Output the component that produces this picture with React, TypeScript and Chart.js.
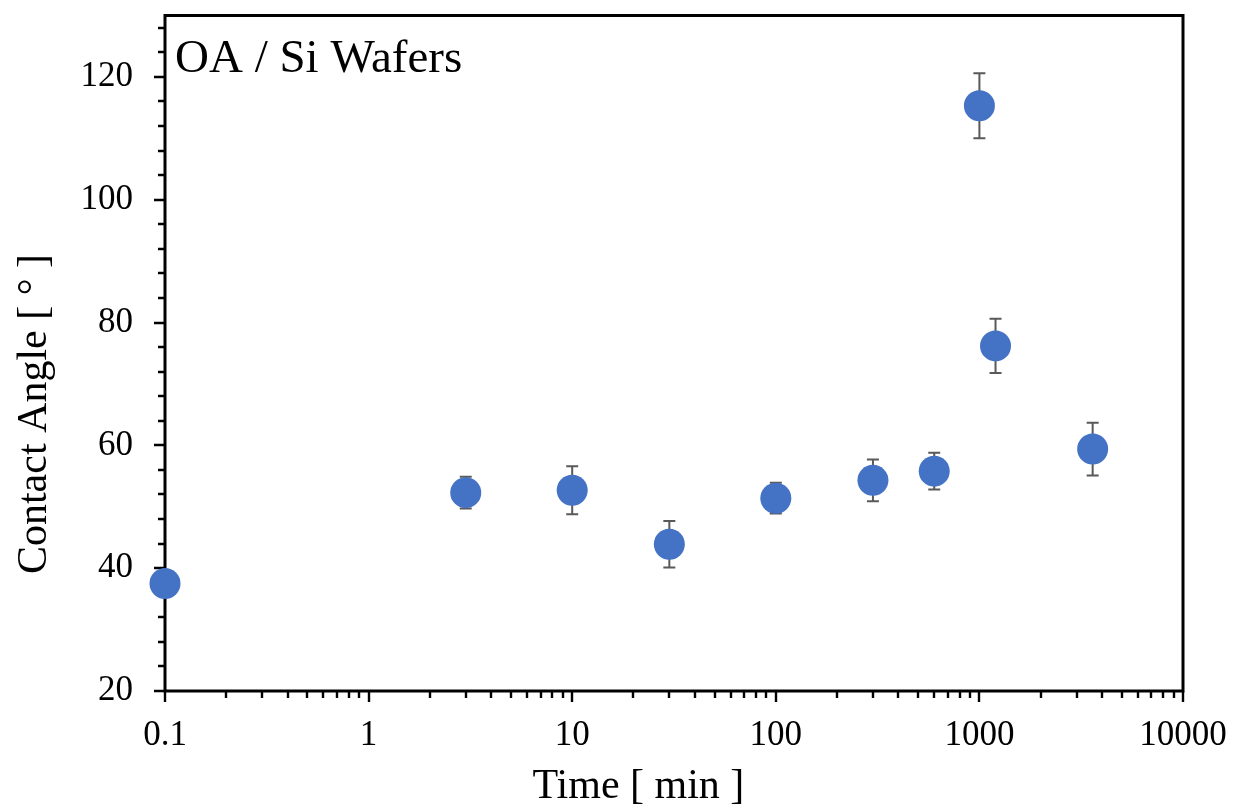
import React, { useEffect, useRef } from "react";
import { Chart, registerables } from "chart.js";

Chart.register(...registerables);

// ---- data ----
const timeMin = [0.1, 3, 10, 30, 100, 300, 600, 1000, 1200, 3600];
const contactAngle = [37.5, 52.3, 52.7, 43.9, 51.4, 54.3, 55.8, 115.3, 76.2, 59.4];
const angleError = [0, 2.6, 3.9, 3.8, 2.5, 3.4, 3.0, 5.3, 4.4, 4.3];

// ---- axes ----
const xTickValues = [0.1, 1, 10, 100, 1000, 10000];
const yTickValues = [20, 40, 60, 80, 100, 120];
const yMin = 20;
const yMax = 130;
const yMinorStep = 4;
const xMinorMultipliers = [2, 3, 4, 5, 6, 7, 8, 9];

const chartTitle = "OA / Si Wafers";
const xTitle = "Time [ min ]";
const yTitle = "Contact Angle [ ° ]";

const FONT = "'Liberation Serif', 'Times New Roman', serif";
const POINT_COLOR = "#4472C4";
const ERR_COLOR = "#595959";

const errorBarPlugin = {
  id: "errorBars",
  beforeDatasetsDraw(chart: any) {
    const { ctx, scales } = chart;
    const xs = scales.x;
    const ys = scales.y;
    ctx.save();
    ctx.strokeStyle = ERR_COLOR;
    ctx.lineWidth = 2;
    timeMin.forEach((t, i) => {
      const e = angleError[i];
      if (!e) return;
      const px = xs.getPixelForValue(t);
      const top = ys.getPixelForValue(contactAngle[i] + e);
      const bot = ys.getPixelForValue(contactAngle[i] - e);
      const cap = 6;
      ctx.beginPath();
      ctx.moveTo(px, top);
      ctx.lineTo(px, bot);
      ctx.moveTo(px - cap, top);
      ctx.lineTo(px + cap, top);
      ctx.moveTo(px - cap, bot);
      ctx.lineTo(px + cap, bot);
      ctx.stroke();
    });
    ctx.restore();
  },
};

const frameAndTicksPlugin = {
  id: "frameAndTicks",
  beforeDatasetsDraw(chart: any) {
    const { ctx, chartArea, scales } = chart;
    const xs = scales.x;
    const ys = scales.y;
    const { left, right, top, bottom } = chartArea;
    ctx.save();
    ctx.strokeStyle = "#000";
    ctx.lineWidth = 2.4;
    ctx.beginPath();
    // y ticks
    for (let v = yMin; v <= yMax; v += yMinorStep) {
      const py = Math.round(ys.getPixelForValue(v));
      const major = yTickValues.includes(v);
      ctx.moveTo(left - (major ? 11 : 7), py);
      ctx.lineTo(left, py);
    }
    // x ticks
    xTickValues.forEach((d, di) => {
      const px = Math.round(xs.getPixelForValue(d));
      ctx.moveTo(px, bottom);
      ctx.lineTo(px, bottom + 11);
      if (di < xTickValues.length - 1) {
        xMinorMultipliers.forEach((m) => {
          const mx = Math.round(xs.getPixelForValue(d * m));
          ctx.moveTo(mx, bottom);
          ctx.lineTo(mx, bottom + 7);
        });
      }
    });
    ctx.stroke();
    ctx.lineWidth = 3;
    ctx.strokeRect(left, top, right - left, bottom - top);

    ctx.fillStyle = "#000";
    // annotation title inside plot
    ctx.font = `47px ${FONT}`;
    ctx.textAlign = "left";
    ctx.textBaseline = "alphabetic";
    ctx.fillText(chartTitle, left + 10, top + 56);

    // axis titles
    ctx.font = `42px ${FONT}`;
    ctx.textAlign = "center";
    ctx.fillText(xTitle, left + (right - left) * 0.465, chart.height - 10);

    ctx.save();
    ctx.translate(46, top + (bottom - top) * 0.59);
    ctx.rotate(-Math.PI / 2);
    ctx.fillText(yTitle, 0, 0);
    ctx.restore();

    ctx.restore();
  },
};

export default function App() {
  const canvasRef = useRef<HTMLCanvasElement | null>(null);

  useEffect(() => {
    const canvas = canvasRef.current;
    if (!canvas) return;
    const chart = new Chart(canvas, {
      type: "scatter",
      data: {
        datasets: [
          {
            label: chartTitle,
            data: timeMin.map((t, i) => ({ x: t, y: contactAngle[i] })),
            backgroundColor: POINT_COLOR,
            borderColor: POINT_COLOR,
            pointRadius: 15.5,
            pointHoverRadius: 15.5,
            borderWidth: 0,
            clip: false,
          } as any,
        ],
      },
      options: {
        animation: false,
        responsive: true,
        maintainAspectRatio: false,
        layout: { padding: { top: 14, right: 52, left: 0, bottom: 0 } },
        plugins: {
          legend: { display: false },
          tooltip: { enabled: false },
          title: { display: false },
        },
        scales: {
          x: {
            type: "logarithmic",
            min: 0.1,
            max: 10000,
            grid: { display: false, drawTicks: false, tickLength: 0 },
            border: { display: false },
            afterBuildTicks: (s: any) => {
              s.ticks = xTickValues.map((v) => ({ value: v, major: true }));
            },
            afterFit: (s: any) => {
              s.height = 117;
              s.paddingLeft = 0;
              s.paddingRight = 0;
            },
            ticks: {
              autoSkip: false,
              maxRotation: 0,
              padding: 24,
              color: "#000",
              font: { family: FONT, size: 35 },
              callback: (v: any) => String(v),
            },
            title: { display: false, text: xTitle },
          },
          y: {
            type: "linear",
            min: yMin,
            max: yMax,
            grid: { display: false, drawTicks: false, tickLength: 0 },
            border: { display: false },
            afterBuildTicks: (s: any) => {
              s.ticks = yTickValues.map((v) => ({ value: v }));
            },
            afterFit: (s: any) => {
              s.width = 165;
              s.paddingTop = 0;
              s.paddingBottom = 0;
            },
            ticks: {
              padding: 32,
              color: "#000",
              font: { family: FONT, size: 35 },
              callback: (v: any) => String(v),
            },
            title: { display: false, text: yTitle },
          },
        },
      },
      plugins: [frameAndTicksPlugin, errorBarPlugin],
    });
    return () => chart.destroy();
  }, []);

  return (
    <div style={{ position: "fixed", left: 0, top: 0, width: 1235, height: 808, background: "#fff" }}>
      <canvas ref={canvasRef} />
    </div>
  );
}
